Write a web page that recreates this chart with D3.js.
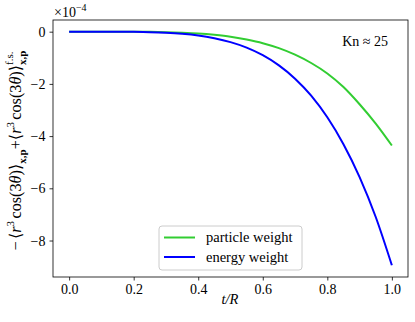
<!DOCTYPE html>
<html>
<head>
<meta charset="utf-8">
<script src="https://cdn.jsdelivr.net/npm/d3@7"></script>
<style>
  body { margin: 0; background: #fff; }
  svg text { font-family: "Liberation Serif", "Times New Roman", "DejaVu Serif", serif !important; fill: #000; }
</style>
</head>
<body>
<div id="chart"></div>
<script>
// data, in units of 1e-4
const tValues = [0, 0.05, 0.1, 0.15, 0.2, 0.25, 0.3, 0.35, 0.4, 0.45, 0.5,
                 0.55, 0.6, 0.65, 0.7, 0.75, 0.8, 0.85, 0.9, 0.95, 1.0];
const particleWeight = [0, 0, 0, 0, 0, -0.005, -0.02, -0.04, -0.07, -0.12, -0.19,
                        -0.30, -0.44, -0.63, -0.88, -1.20, -1.60, -2.12, -2.78, -3.52, -4.36];
const energyWeight = [0, 0, 0, -0.001, -0.006, -0.017, -0.04, -0.08, -0.145, -0.25, -0.40,
                      -0.61, -0.90, -1.29, -1.80, -2.45, -3.28, -4.31, -5.57, -7.10, -8.95];
const xTicks = [0, 0.2, 0.4, 0.6, 0.8, 1.0];
const yTicks = [-8, -6, -4, -2, 0];
const seriesNames = ["particle weight", "energy weight"];
const seriesColors = ["#32cd32", "#0000ff"];

const width = 415, height = 322;
const mLeft = 53, mRight = 408, mTop = 20, mBottom = 277;

const svg = d3.select("#chart")
  .append("svg")
    .attr("width", width)
    .attr("height", height);

const x = d3.scaleLinear().domain([-0.05, 1.05]).range([mLeft, mRight]);
const y = d3.scaleLinear().domain([-9.3975, 0.4475]).range([mBottom, mTop]);

// lines
const line = d3.line()
  .x(function(d, i) { return x(tValues[i]); })
  .y(function(d) { return y(d); })
  .curve(d3.curveMonotoneX);

[particleWeight, energyWeight].forEach(function(s, k) {
  svg.append("path")
    .attr("d", line(s))
    .attr("fill", "none")
    .attr("stroke", seriesColors[k])
    .attr("stroke-width", 2);
});

// axes
const xAxis = svg.append("g")
  .attr("transform", `translate(0,${mBottom})`)
  .call(d3.axisBottom(x).tickValues(xTicks).tickFormat(d3.format(".1f")).tickSize(3.5).tickPadding(4));
const yAxis = svg.append("g")
  .attr("transform", `translate(${mLeft},0)`)
  .call(d3.axisLeft(y).tickValues(yTicks).tickFormat(d3.format("d")).tickSize(3.5).tickPadding(4));

[xAxis, yAxis].forEach(function(a) {
  a.attr("font-family", null);
  a.select(".domain").remove();
  a.selectAll("line").attr("stroke", "#000").attr("stroke-width", 0.8);
  a.selectAll("text").style("font-size", "14px");
});

// frame
svg.append("rect")
  .attr("x", mLeft).attr("y", mTop)
  .attr("width", mRight - mLeft).attr("height", mBottom - mTop)
  .attr("fill", "none")
  .attr("stroke", "#000")
  .attr("stroke-width", 0.8);

// offset text
const off = svg.append("text").attr("x", 54).attr("y", 17).style("font-size", "14px");
off.append("tspan").text("×10");
off.append("tspan").attr("dy", -6).style("font-size", "10px").text("−4");

// x label
svg.append("text")
  .attr("x", 230).attr("y", 304)
  .attr("text-anchor", "middle")
  .style("font-size", "14.5px")
  .style("font-style", "italic")
  .text("t/R");

// y label, laid out piece by piece
const yl = svg.append("g");
function piece(g, str, px, dy, size, opts) {
  const t = g.append("text").attr("x", px).attr("y", dy).style("font-size", size + "px").text(str);
  if (opts && opts.italic) t.style("font-style", "italic");
  if (opts && opts.bold) t.style("font-weight", "bold");
  return t.node().getComputedTextLength();
}
let cx = 0;
function bracket() {
  cx += piece(yl, "⟨", cx, 0, 14);
  cx += piece(yl, "r", cx, 0, 14, {italic: true});
  cx += piece(yl, "3", cx, -6, 9.5) + 2;
  cx += piece(yl, "cos(3", cx, 0, 14);
  cx += piece(yl, "θ", cx, 0, 14, {italic: true});
  cx += piece(yl, ")⟩", cx, 0, 14);
}
cx += piece(yl, "−", cx, 0, 14) + 2;
bracket();
cx += piece(yl, "x,p", cx, 4, 9.5, {bold: true});
cx += piece(yl, " + ", cx, 0, 14);
bracket();
const w1 = piece(yl, "f.s.", cx, -7, 9.5);
const w2 = piece(yl, "x,p", cx, 4, 9.5, {bold: true});
cx += Math.max(w1, w2);
const ylScale = 200 / cx;
const ylCenter = (mTop + mBottom) / 2 + 2;
yl.attr("transform", `translate(21,${ylCenter + 100}) rotate(-90) scale(${ylScale})`);

// annotation
svg.append("text")
  .attr("x", 388).attr("y", 46)
  .attr("text-anchor", "end")
  .style("font-size", "14px")
  .text("Kn ≈ 25");

// legend
const lg = svg.append("g").attr("transform", "translate(159,226)");
lg.append("rect")
  .attr("width", 143).attr("height", 44)
  .attr("rx", 3)
  .attr("fill", "#fff").attr("fill-opacity", 0.8)
  .attr("stroke", "#ccc").attr("stroke-width", 1);
seriesNames.forEach(function(name, k) {
  const yy = 11.5 + k * 19.5;
  lg.append("line")
    .attr("x1", 5).attr("x2", 36)
    .attr("y1", yy).attr("y2", yy)
    .attr("stroke", seriesColors[k]).attr("stroke-width", 2);
  lg.append("text")
    .attr("x", 47).attr("y", yy + 4.5)
    .style("font-size", "14.5px")
    .text(name);
});
</script>
</body>
</html>
